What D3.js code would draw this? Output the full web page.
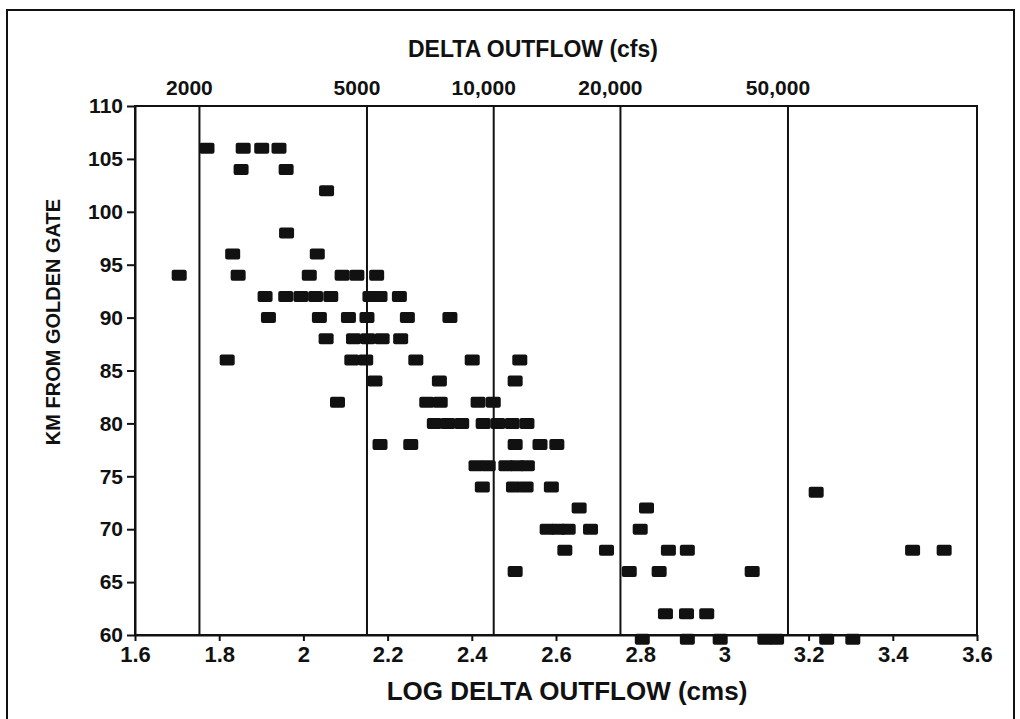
<!DOCTYPE html>
<html>
<head>
<meta charset="utf-8">
<script src="https://cdn.jsdelivr.net/npm/d3@7"></script>
<style>
  body { margin: 0; background: #fff; }
  text { font-family: "Liberation Sans", Arial, Helvetica, sans-serif; font-weight: bold; fill: #111; }
</style>
</head>
<body>
<svg width="1020" height="719"></svg>
<script>
// km from Golden Gate, one row per level
const rowKm = [106, 104, 102, 98, 96, 94, 92, 90, 88, 86, 84, 82, 80, 78, 76, 74, 73.5, 72, 70, 68, 66, 62, 59.6];
// log delta outflow (cms) of each marker in the row
const rowLogFlow = [
    [1.771, 1.857, 1.901, 1.942],
    [1.852, 1.959],
    [2.055],
    [1.960],
    [1.832, 2.033],
    [1.705, 1.845, 2.014, 2.092, 2.127, 2.174],
    [1.909, 1.958, 1.994, 2.029, 2.065, 2.158, 2.182, 2.228],
    [1.917, 2.038, 2.107, 2.151, 2.247, 2.348],
    [2.054, 2.119, 2.153, 2.187, 2.231],
    [1.819, 2.115, 2.148, 2.267, 2.401, 2.514],
    [2.170, 2.323, 2.503],
    [2.081, 2.293, 2.325, 2.415, 2.451],
    [2.311, 2.343, 2.376, 2.427, 2.462, 2.496, 2.531],
    [2.182, 2.255, 2.503, 2.562, 2.602],
    [2.410, 2.439, 2.481, 2.507, 2.532],
    [2.425, 2.499, 2.529, 2.589],
    [3.218],
    [2.655, 2.815],
    [2.579, 2.605, 2.629, 2.682, 2.800],
    [2.621, 2.720, 2.867, 2.912, 3.447, 3.522],
    [2.503, 2.774, 2.845, 3.066],
    [2.860, 2.910, 2.958],
    [2.805, 2.912, 2.990, 3.096, 3.124, 3.243, 3.305]
];

// top scale: delta outflow in cfs
const flowCfs = [2000, 5000, 10000, 20000, 50000];
const flowLabels = ['2000', '5000', '10,000', '20,000', '50,000'];

const xTicks = [1.6, 1.8, 2, 2.2, 2.4, 2.6, 2.8, 3, 3.2, 3.4, 3.6];
const xTickLabels = ['1.6', '1.8', '2', '2.2', '2.4', '2.6', '2.8', '3', '3.2', '3.4', '3.6'];
const yTicks = [60, 65, 70, 75, 80, 85, 90, 95, 100, 105, 110];

const svg = d3.select('svg');

const x = d3.scaleLinear().domain([1.6, 3.6]).range([135, 977]);
const y = d3.scaleLinear().domain([60, 110]).range([635, 106]);

// cfs -> cms -> log10
const cfsToLog = c => Math.log10(c * 0.0283168);

// outer frame of the figure
svg.append('rect')
    .attr('x', 7).attr('y', 10)
    .attr('width', 1007).attr('height', 730)
    .attr('fill', 'none').attr('stroke', '#111').attr('stroke-width', 2);

// plot box
svg.append('rect')
    .attr('x', x(1.6)).attr('y', y(110))
    .attr('width', x(3.6) - x(1.6)).attr('height', y(60) - y(110))
    .attr('fill', 'none').attr('stroke', '#111').attr('stroke-width', 2);

// vertical lines at the cfs values
svg.selectAll('line.flow').data(flowCfs)
    .enter()
    .append('line')
        .attr('class', 'flow')
        .attr('x1', d => x(cfsToLog(d)))
        .attr('x2', d => x(cfsToLog(d)))
        .attr('y1', y(110))
        .attr('y2', y(60))
        .attr('stroke', '#111')
        .attr('stroke-width', 2);

svg.selectAll('text.flow').data(flowCfs)
    .enter()
    .append('text')
        .attr('class', 'flow')
        .attr('x', d => x(cfsToLog(d)) - 10)
        .attr('y', 95)
        .attr('text-anchor', 'middle')
        .attr('font-size', 21)
        .text((d, i) => flowLabels[i]);

svg.append('text')
    .attr('x', 533).attr('y', 57)
    .attr('text-anchor', 'middle')
    .attr('font-size', 23)
    .text('DELTA  OUTFLOW (cfs)');

// axes
const xAxis = d3.axisBottom(x)
    .tickValues(xTicks)
    .tickFormat((d, i) => xTickLabels[i])
    .tickSize(6).tickSizeOuter(0).tickPadding(5);

const gx = svg.append('g')
    .attr('transform', `translate(0, ${y(60)})`)
    .call(xAxis);
gx.selectAll('text').attr('font-size', 22).attr('fill', '#111')
    .style('font-family', '"Liberation Sans", Arial, sans-serif').style('font-weight', 'bold');
gx.selectAll('line, path').attr('stroke', '#111').attr('stroke-width', 2);

const yAxis = d3.axisLeft(y)
    .tickValues(yTicks)
    .tickSize(8).tickSizeOuter(0).tickPadding(4);

const gy = svg.append('g')
    .attr('transform', `translate(${x(1.6)}, 0)`)
    .call(yAxis);
gy.selectAll('text').attr('font-size', 21).attr('fill', '#111')
    .style('font-family', '"Liberation Sans", Arial, sans-serif').style('font-weight', 'bold');
gy.selectAll('line, path').attr('stroke', '#111').attr('stroke-width', 2);

svg.append('text')
    .attr('transform', 'translate(60, 322) rotate(-90)')
    .attr('text-anchor', 'middle')
    .attr('font-size', 20)
    .text('KM FROM GOLDEN GATE');

svg.append('text')
    .attr('x', 567).attr('y', 700)
    .attr('text-anchor', 'middle')
    .attr('font-size', 26)
    .text('LOG DELTA OUTFLOW (cms)');

// markers
const points = rowKm.flatMap((km, i) => rowLogFlow[i].map(v => ({km: km, flow: v})));

svg.selectAll('rect.pt').data(points)
    .enter()
    .append('rect')
        .attr('class', 'pt')
        .attr('x', d => x(d.flow) - 7.5)
        .attr('y', d => y(d.km) - 5.5)
        .attr('width', 15)
        .attr('height', 11)
        .attr('rx', 2)
        .attr('fill', '#111');
</script>
</body>
</html>
